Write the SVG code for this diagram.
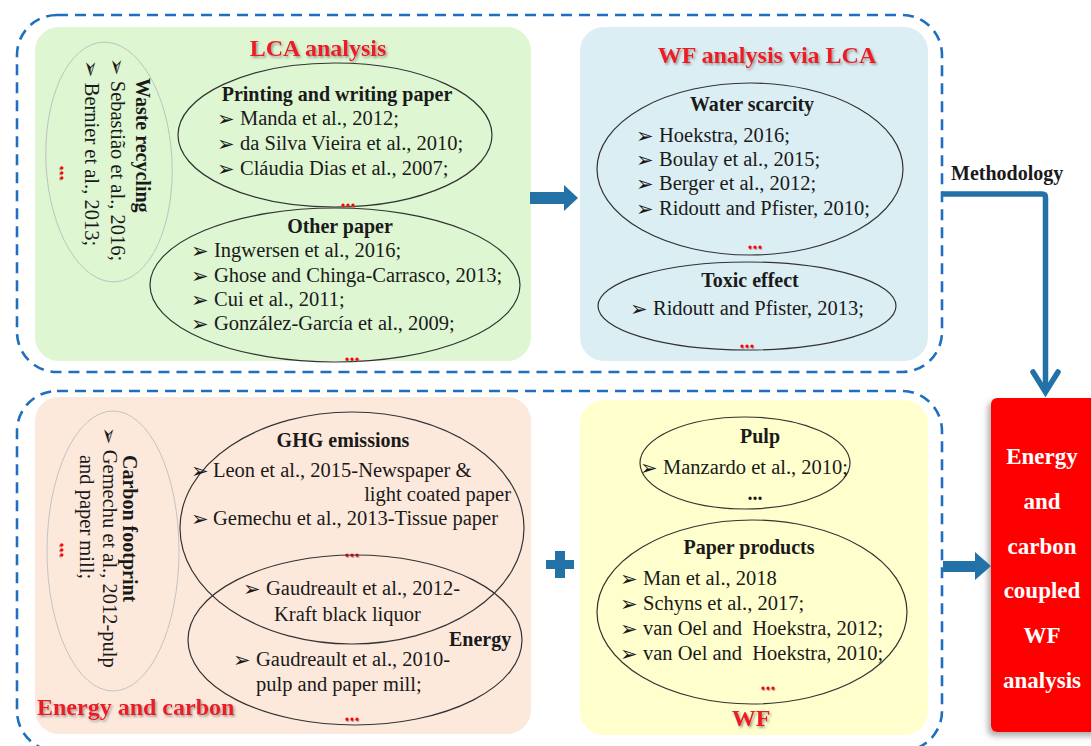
<svg xmlns="http://www.w3.org/2000/svg" width="1091" height="746" viewBox="0 0 1091 746">
<defs>
<style>
text{font-family:"Liberation Serif","Times New Roman",serif;fill:#1a1a1a;font-size:20.5px}
.b{font-weight:bold;font-size:20px}
.m{text-anchor:middle}
.e{text-anchor:end}
.bl{font-family:"DejaVu Sans",sans-serif;font-size:21px;font-weight:normal}
.title{font-weight:bold;font-size:24px;fill:#EC1C24;filter:url(#ts)}
.dots{font-weight:bold;font-size:20px;fill:#FF0000;text-anchor:middle;filter:url(#ds)}
.ell{fill:none;stroke:#333;stroke-width:1.2}
.ellg{fill:none;stroke:#BDBDBD;stroke-width:0.9}
.frame{fill:none;stroke:#1F6FBF;stroke-width:2.6;stroke-dasharray:11 7}
.box{fill:#FFFFFF;font-weight:bold;font-size:23px;text-anchor:middle}
</style>
<filter id="ts" x="-10%" y="-30%" width="130%" height="170%">
<feDropShadow dx="1.5" dy="1.8" stdDeviation="1" flood-color="#777" flood-opacity="0.7"/>
</filter>
<filter id="ds" x="-30%" y="-60%" width="160%" height="220%">
<feDropShadow dx="0.8" dy="1" stdDeviation="0.6" flood-color="#777" flood-opacity="0.6"/>
</filter>
<filter id="bs" x="-20%" y="-10%" width="140%" height="130%">
<feDropShadow dx="-3" dy="4" stdDeviation="3" flood-color="#666" flood-opacity="0.55"/>
</filter>
</defs>
<rect width="1091" height="746" fill="#FFFFFF"/>

<g id="frames">
<rect class="frame" x="17" y="15" width="925" height="357" rx="40"/>
<rect class="frame" x="17" y="391" width="925" height="360" rx="40"/>
</g>

<g id="panel-lca">
<rect x="35" y="27" width="496" height="334" rx="24" fill="#DEF6D2"/>
<text class="title m" x="318" y="56">LCA analysis</text>
</g>
<g id="node-waste-recycling">
<ellipse class="ellg" cx="109" cy="162" rx="63" ry="120" transform="rotate(-3 109 162)"/>
<text class="b" transform="translate(136,78) rotate(90)">Waste recycling</text>
<text transform="translate(111,58) rotate(90)"><tspan class="bl" dy="1">➢</tspan><tspan dy="-1"> Sebastião et al., 2016;</tspan></text>
<text transform="translate(85,60) rotate(90)"><tspan class="bl" dy="1">➢</tspan><tspan dy="-1"> Bernier et al., 2013;</tspan></text>
<text class="dots" transform="translate(60,173) rotate(90)">...</text>
</g>
<g id="node-printing">
<ellipse class="ell" cx="335" cy="135" rx="157" ry="72"/>
<text class="b m" x="337" y="101">Printing and writing paper</text>
<text class="bl" x="217" y="126">➢</text><text x="240" y="125">Manda et al., 2012;</text>
<text class="bl" x="217" y="151">➢</text><text x="240" y="150">da Silva Vieira et al., 2010;</text>
<text class="bl" x="217" y="176">➢</text><text x="240" y="175">Cláudia Dias et al., 2007;</text>
<text class="dots" x="348" y="207">...</text>
</g>
<g id="node-other-paper">
<ellipse class="ell" cx="335" cy="285" rx="185" ry="77"/>
<text class="b m" x="340" y="233">Other paper</text>
<text class="bl" x="191" y="258">➢</text><text x="214" y="257">Ingwersen et al., 2016;</text>
<text class="bl" x="191" y="283">➢</text><text x="214" y="282">Ghose and Chinga-Carrasco, 2013;</text>
<text class="bl" x="191" y="307">➢</text><text x="214" y="306">Cui et al., 2011;</text>
<text class="bl" x="191" y="331">➢</text><text x="214" y="330">González-García et al., 2009;</text>
<text class="dots" x="352" y="361">...</text>
</g>

<g id="panel-wf-lca">
<rect x="580" y="27" width="348" height="334" rx="24" fill="#DBEEF4"/>
<text class="title m" x="767" y="63">WF analysis via LCA</text>
</g>
<g id="node-water-scarcity">
<ellipse class="ell" cx="750" cy="169" rx="153" ry="86"/>
<text class="b m" x="752" y="111">Water scarcity</text>
<text class="bl" x="636" y="143">➢</text><text x="659" y="142">Hoekstra, 2016;</text>
<text class="bl" x="636" y="167">➢</text><text x="659" y="166">Boulay et al., 2015;</text>
<text class="bl" x="636" y="191">➢</text><text x="659" y="190">Berger et al., 2012;</text>
<text class="bl" x="636" y="216">➢</text><text x="659" y="215">Ridoutt and Pfister, 2010;</text>
<text class="dots" x="755" y="249">...</text>
</g>
<g id="node-toxic">
<ellipse class="ell" cx="747" cy="306" rx="149" ry="44"/>
<text class="b m" x="750" y="287">Toxic effect</text>
<text class="bl" x="630" y="316">➢</text><text x="653" y="315">Ridoutt and Pfister, 2013;</text>
<text class="dots" x="747" y="348">...</text>
</g>

<g id="panel-energy-carbon">
<rect x="35" y="397" width="496" height="337" rx="24" fill="#FDE9DC"/>
<text class="title" x="37" y="715">Energy and carbon</text>
</g>
<g id="node-carbon-footprint">
<ellipse class="ellg" cx="113" cy="551" rx="66" ry="140"/>
<text class="b" transform="translate(123,455) rotate(90)">Carbon footprint</text>
<text transform="translate(103,427) rotate(90)"><tspan class="bl" dy="1">➢</tspan><tspan dy="-1"> Gemechu et al., 2012-pulp</tspan></text>
<text transform="translate(80,455) rotate(90)">and paper mill;</text>
<text class="dots" transform="translate(60,550) rotate(90)">...</text>
</g>
<g id="node-ghg">
<ellipse class="ell" cx="352" cy="528" rx="172" ry="116"/>
<text class="b m" x="343" y="447">GHG emissions</text>
<text class="bl" x="191" y="478">➢</text><text x="213" y="477">Leon et al., 2015-Newspaper &amp;</text>
<text class="e" x="511" y="501">light coated paper</text>
<text class="bl" x="191" y="526">➢</text><text x="213" y="525">Gemechu et al., 2013-Tissue paper</text>
<text class="dots" x="352" y="557">...</text>
</g>
<g id="node-energy">
<ellipse class="ell" cx="355" cy="640" rx="167" ry="85"/>
<text class="bl" x="243" y="596">➢</text><text x="266" y="595">Gaudreault et al., 2012-</text>
<text x="274" y="621">Kraft black liquor</text>
<text class="b" x="449" y="646">Energy</text>
<text class="bl" x="233" y="667">➢</text><text x="256" y="666">Gaudreault et al., 2010-</text>
<text x="256" y="691">pulp and paper mill;</text>
<text class="dots" x="352" y="721">...</text>
</g>

<g id="panel-wf">
<rect x="580" y="400" width="348" height="335" rx="24" fill="#FFFFCD"/>
<text class="title m" x="751" y="726">WF</text>
</g>
<g id="node-pulp">
<ellipse class="ell" cx="745" cy="463" rx="105" ry="46"/>
<text class="b m" x="760" y="443">Pulp</text>
<text class="bl" x="640" y="475">➢</text><text x="663" y="474">Manzardo et al., 2010;</text>
<text class="b m" x="755" y="500">...</text>
</g>
<g id="node-paper-products">
<ellipse class="ell" cx="752" cy="612" rx="155" ry="92"/>
<text class="b m" x="749" y="554">Paper products</text>
<text class="bl" x="620" y="586">➢</text><text x="643" y="585">Man et al., 2018</text>
<text class="bl" x="620" y="611">➢</text><text x="643" y="610">Schyns et al., 2017;</text>
<text class="bl" x="620" y="636">➢</text><text x="643" y="635" xml:space="preserve">van Oel and  Hoekstra, 2012;</text>
<text class="bl" x="620" y="661">➢</text><text x="643" y="660" xml:space="preserve">van Oel and  Hoekstra, 2010;</text>
<text class="dots" x="768" y="690">...</text>
</g>

<g id="node-result">
<rect x="991" y="398" width="112" height="334" rx="6" fill="#FF0000" filter="url(#bs)"/>
<text class="box" x="1042" y="464">Energy</text>
<text class="box" x="1042" y="509">and</text>
<text class="box" x="1042" y="554">carbon</text>
<text class="box" x="1042" y="598">coupled</text>
<text class="box" x="1042" y="643">WF</text>
<text class="box" x="1042" y="688">analysis</text>
</g>

<g id="connectors">
<polygon points="530,192 564,192 564,185 578,198 564,211 564,204 530,204" fill="#2272A8"/>
<path d="M546,560 H555 V551 H565 V560 H574 V569 H565 V578 H555 V569 H546 Z" fill="#2272A8"/>
<path d="M942,194 H1042 Q1045.5,194 1045.5,197.5 V392" fill="none" stroke="#2272A8" stroke-width="5.5"/>
<polyline points="1033,372 1045.5,392 1058,372" fill="none" stroke="#2272A8" stroke-width="5.5" stroke-linecap="round" stroke-linejoin="miter"/>
<text class="b" x="951" y="180">Methodology</text>
<polygon points="943,561 975,561 975,552 991,566 975,580 975,572 943,572" fill="#2272A8"/>
</g>
</svg>
